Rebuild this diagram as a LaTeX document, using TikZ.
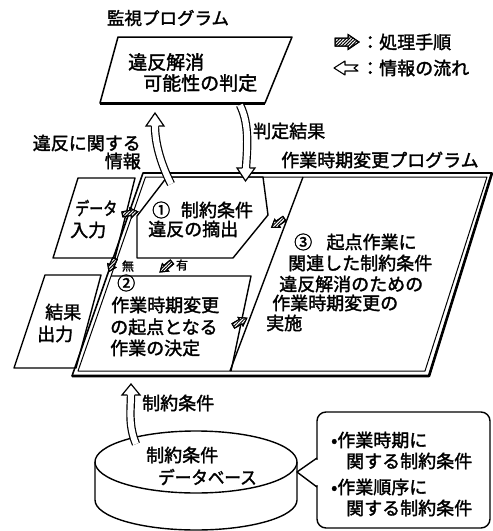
\documentclass[tikz,border=0pt]{standalone}
\usepackage{graphicx}
\usepackage{fontspec}
\setmainfont{Noto Sans CJK JP}[FakeBold=1.8]
\usetikzlibrary{patterns.meta}
\tikzset{
  txt/.style={inner sep=0pt, anchor=west, font=\fontsize{18}{21}\selectfont},
  txtc/.style={inner sep=0pt, font=\fontsize{18}{21}\selectfont},
  small/.style={inner sep=0pt, font=\fontsize{12}{14}\selectfont},
  boxline/.style={line width=1.4pt, line join=round},
  flowshaft/.style={draw=black, double=white, double distance=6pt, line width=1.2pt},
  flowhead/.style={line width=1.2pt, line join=miter},
  hatcharrow/.pic={
    \filldraw[fill=white, line width=1pt] (-12,-4) -- (1,-4) -- (1,-7.5) -- (12,0) -- (1,7.5) -- (1,4) -- (-12,4) -- cycle;
    \path[pattern={Lines[angle=45,distance=2.3pt,line width=1pt]}] (-12,-4) -- (1,-4) -- (1,-7.5) -- (12,0) -- (1,7.5) -- (1,4) -- (-12,4) -- cycle;
    \draw[line width=1pt] (-12,-4) -- (1,-4) -- (1,-7.5) -- (12,0) -- (1,7.5) -- (1,4) -- (-12,4) -- cycle;
  }
}
\begin{document}
\begin{tikzpicture}[x=1pt,y=-1pt]
\useasboundingbox (0,0) rectangle (493,531);

% ---- monitoring program box
\draw[line width=1.5pt, line join=round] (118,37) -- (292,37) -- (265,103) -- (100,103) -- cycle;
\draw[line width=3pt] (100,103) -- (265,103);

% ---- change program frame (double)
\draw[line width=1.6pt, line join=round] (143,173) -- (492,173) -- (429,376) -- (72,376) -- cycle;
\draw[line width=2.6pt, line join=round] (492,173) -- (429,376) -- (72,376);
\draw[line width=1pt, line join=round] (145.5,177) -- (487,177) -- (425,371) -- (78,371) -- cycle;

% box 1
\draw[boxline] (167,177) -- (263,177) -- (268,215) -- (233,258) -- (137,258) -- (137,216) -- cycle;
% box 2
\draw[boxline] (111,276) -- (251,276) -- (231,371);
% box 3
\draw[boxline] (303,177) -- (230,371);
% data input
\draw[boxline] (78,178) -- (135,178) -- (115,258) -- (53,258) -- cycle;
% result output
\draw[boxline] (45,275) -- (101,275) -- (76,368) -- (14,368) -- cycle;

% ---- database cylinder
\coordinate (dbc) at (196,462);
\draw[line width=1.4pt] (95,462) -- (95,500) arc[start angle=180, end angle=0, x radius=101, y radius=30] -- (297,462);
\draw[line width=1.4pt] (dbc) ellipse [x radius=101, y radius=31];

% ---- callout
\node[draw, line width=1.4pt, rounded corners=9pt, minimum width=173pt, minimum height=116pt, inner sep=0pt] (callout) at (403.5,470) {};
\fill[white] (314,460) rectangle (320,485);
\draw[line width=1.4pt, line join=round] (317,458) -- (297,472) -- (317,487);

% ---- information flow arrows (hollow)
\draw[flowshaft] (171,184) .. controls (160,162) and (155,142) .. (155,126);
\fill[white] (146,126) -- (155,113) -- (164,126) -- cycle;
\draw[flowhead] (151.4,126) -- (146,126) -- (155,113) -- (164,126) -- (158.6,126);

\draw[flowshaft] (240,105) .. controls (250,125) and (247,150) .. (246,168);
\fill[white] (237,168) -- (245.5,181) -- (255,168) -- cycle;
\draw[flowhead] (242.4,168) -- (237,168) -- (245.5,181) -- (255,168) -- (249.6,168);

\draw[flowshaft] (136,444) .. controls (128,425) and (131,408) .. (131,395);
\fill[white] (122,395) -- (131,384) -- (140,395) -- cycle;
\draw[flowhead] (127.4,395) -- (122,395) -- (131,384) -- (140,395) -- (134.6,395);

% ---- processing step arrows (hatched)
\pic[scale=0.65, rotate=10] at (130,213) {hatcharrow};
\pic[scale=0.6, rotate=-115] at (112,265) {hatcharrow};
\pic[scale=0.65, rotate=-140] at (166,267) {hatcharrow};
\pic[scale=0.65, rotate=-145] at (278,223) {hatcharrow};
\pic[scale=0.65, rotate=30] at (240,322) {hatcharrow};

% ---- legend
\pic at (347,42) {hatcharrow};
\filldraw[fill=white, line width=1.1pt, line join=round] (334,68) -- (345,61) -- (345,65) -- (358,65) -- (354,68) -- (358,71) -- (345,71) -- (345,75) -- cycle;
\node[txt] (lg1) at (361,42) {：処理手順};
\node[txt] (lg2) at (361,68) {：情報の流れ};

% ---- texts
\node[txtc, font=\fontsize{17.5}{20}\selectfont] (title) at (168,18) {監視プログラム};
\node[txt, font=\fontsize{19}{22}\selectfont] (tb1) at (128,62) {違反解消};
\node[txt, font=\fontsize{19}{22}\selectfont] (tb2) at (143,83) {可能性の判定};

\node[txt, anchor=east] (inf1) at (141,143) {違反に関する};
\node[txt, anchor=east] (inf2) at (141,161) {情報};
\node[txt] (judge) at (253,131) {判定結果};
\node[txt] (prog) at (281,160) {作業時期変更プログラム};

\node[txt] (b1a) at (152,210) {①\hspace{0.6em}制約条件};
\node[txt] (b1b) at (148,229) {違反の摘出};

\node[txt] (d1) at (75,208) {\scalebox{0.78}[1]{データ}};
\node[txt] (d2) at (70,230) {入力};

\node[txt] (b3a) at (294,242) {③\hspace{0.8em}起点作業に};
\node[txt] (b3b) at (288,263) {関連した制約条件};
\node[txt] (b3c) at (279,284) {違反解消のための};
\node[txt] (b3d) at (272,303) {作業時期変更の};
\node[txt] (b3e) at (266,323) {実施};

\node[txt] (b2a) at (117,283) {②};
\node[txt] (b2b) at (111,305) {作業時期変更};
\node[txt] (b2c) at (110,327) {の起点となる};
\node[txt] (b2d) at (110,348) {作業の決定};

\node[txt] (r1) at (45,312) {結果};
\node[txt] (r2) at (37,334) {出力};

\node[small] (nashi) at (128,266) {無};
\node[small] (ari) at (182,265) {有};

\node[txt] (cond) at (142,403) {制約条件};
\node[txt] (db1) at (146,455) {制約条件};
\node[txt] (db2) at (158,477) {\scalebox{0.92}[1]{データベース}};

\node[txt] (c1) at (331,440) {•作業時期に};
\node[txt] (c2) at (346,461) {関する制約条件};
\node[txt] (c3) at (331,487) {•作業順序に};
\node[txt] (c4) at (346,508) {関する制約条件};
\end{tikzpicture}
\end{document}
